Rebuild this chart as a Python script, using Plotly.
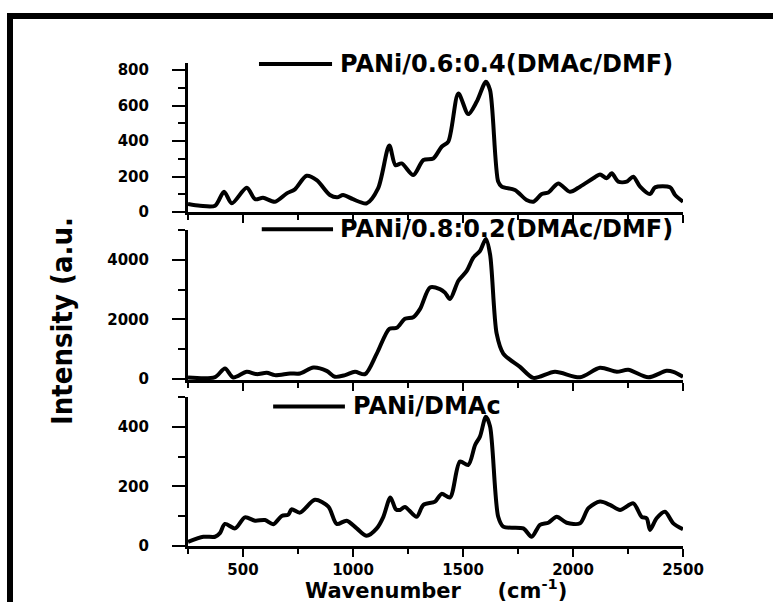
import plotly.graph_objects as go

# ---- data ----
wn_a = [250, 305, 373, 414, 449, 517, 555, 591, 645, 699, 736, 789, 835, 895, 928, 955, 1000,
        1062, 1114, 1165, 1193, 1221, 1274, 1320, 1365, 1403, 1433, 1479, 1524, 1562, 1604, 1623,
        1660, 1676, 1736, 1789, 1820, 1858, 1888, 1933, 1986, 2032, 2092, 2123, 2153, 2176, 2206,
        2244, 2274, 2305, 2350, 2373, 2441, 2464, 2500]
int_a = [45, 35, 35, 114, 49, 137, 72, 80, 58, 105, 128, 204, 180, 96, 83, 96, 72,
         49, 133, 375, 264, 274, 208, 293, 302, 368, 396, 668, 552, 621, 734, 687,
         171, 143, 124, 68, 58, 101, 110, 161, 114, 143, 190, 212, 190, 218, 171,
         171, 199, 143, 101, 139, 139, 96, 58]

wn_b = [250, 373, 418, 456, 517, 562, 608, 645, 714, 759, 820, 880, 918, 964, 1009, 1055, 1108,
        1165, 1199, 1236, 1274, 1305, 1350, 1395, 1418, 1441, 1479, 1517, 1547, 1577, 1604, 1623,
        1653, 1683, 1759, 1820, 1918, 2032, 2123, 2199, 2251, 2342, 2425, 2456, 2500]
int_b = [55, 67, 356, 55, 244, 167, 211, 133, 189, 189, 389, 278, 78, 133, 244, 167, 855,
         1688, 1720, 2021, 2077, 2354, 3074, 3020, 2900, 2687, 3297, 3630, 4073, 4296, 4700, 4186,
         1522, 856, 410, 40, 244, 60, 378, 244, 311, 60, 278, 244, 77]

wn_c = [250, 320, 373, 395, 418, 464, 509, 555, 600, 638, 676, 706, 721, 759, 827, 888, 926,
        971, 1017, 1062, 1108, 1138, 1170, 1195, 1214, 1236, 1289, 1320, 1373, 1403, 1441, 1486,
        1524, 1555, 1577, 1604, 1623, 1660, 1683, 1774, 1812, 1850, 1888, 1926, 1971, 2032, 2070,
        2123, 2168, 2214, 2274, 2312, 2335, 2350, 2380, 2418, 2456, 2500]
int_c = [14, 31, 31, 43, 74, 59, 96, 85, 87, 73, 101, 105, 123, 112, 155, 132, 74,
         85, 59, 34, 59, 98, 163, 123, 121, 131, 98, 138, 149, 175, 163, 283,
         272, 339, 367, 434, 401, 98, 65, 59, 31, 71, 78, 98, 78, 76, 127,
         149, 138, 121, 143, 98, 93, 54, 93, 115, 76, 56]

labels = ["PANi/0.6:0.4(DMAc/DMF)", "PANi/0.8:0.2(DMAc/DMF)", "PANi/DMAc"]
x_title = "Wavenumber\u00a0\u00a0\u00a0\u00a0\u00a0(cm<sup>-1</sup>)"
y_title = "Intensity (a.u."

series = [(wn_a, int_a), (wn_b, int_b), (wn_c, int_c)]

fig = go.Figure()
for i, (wx, wy) in enumerate(series):
    sfx = "" if i == 0 else str(i + 1)
    fig.add_trace(go.Scatter(x=wx, y=wy, mode="lines", name=labels[i],
                             line=dict(color="black", width=4, shape="spline", smoothing=0.8),
                             xaxis="x" + sfx, yaxis="y" + sfx, showlegend=False))

tickfont = dict(family="DejaVu Sans", size=15, color="black", weight="bold")

def xax(show_labels, anchor):
    return dict(range=[250, 2500], anchor=anchor, domain=[0, 1],
                showgrid=False, zeroline=False, showline=True, linecolor="black", linewidth=3,
                ticks="outside", dtick=500, tick0=0, ticklen=8, tickwidth=2, tickcolor="black",
                minor=dict(dtick=250, tick0=0, ticks="outside", ticklen=5, tickwidth=2, tickcolor="black"),
                showticklabels=show_labels, tickfont=tickfont, ticklabelstandoff=0)

def yax(rng, dtick, domain, anchor):
    return dict(range=rng, domain=domain, anchor=anchor,
                showgrid=False, zeroline=False, showline=True, linecolor="black", linewidth=3,
                ticks="outside", dtick=dtick, tick0=0, ticklen=13, tickwidth=2, tickcolor="black",
                minor=dict(dtick=dtick / 2, tick0=0, ticks="outside", ticklen=7, tickwidth=2, tickcolor="black"),
                tickfont=tickfont, ticklabelstandoff=20)

fig.update_layout(
    width=773, height=602,
    margin=dict(l=188, r=90, t=63, b=56),
    paper_bgcolor="white", plot_bgcolor="white",
    xaxis=xax(False, "y"),
    xaxis2=xax(False, "y2"),
    xaxis3=xax(True, "y3"),
    yaxis=yax([0, 840], 200, [0.6915, 1.0], "x"),
    yaxis2=yax([-30, 5000], 2000, [0.3437, 0.6542], "x2"),
    yaxis3=yax([0, 500], 200, [0.0, 0.3085], "x3"),
)

labfont = dict(family="DejaVu Sans", size=24, color="black", weight="bold")
leg_pos = [  # (line start, line end, text start) as paper fractions, y in paper
    (0.1434, 0.291, 0.303, 0.998),
    (0.149, 0.293, 0.303, 0.656),
    (0.172, 0.317, 0.330, 0.289),
]
annotations = []
shapes = []
for i, (x0, x1, xt, yp) in enumerate(leg_pos):
    shapes.append(dict(type="line", xref="paper", yref="paper", x0=x0, x1=x1, y0=yp, y1=yp,
                       line=dict(color="black", width=4)))
    annotations.append(dict(text=labels[i], xref="paper", yref="paper", x=xt, y=yp,
                            xanchor="left", yanchor="middle", showarrow=False, font=labfont))

annotations.append(dict(text=x_title, xref="paper", yref="paper", x=0.5, y=-0.088,
                        xanchor="center", yanchor="middle", showarrow=False,
                        font=dict(family="DejaVu Sans", size=21, color="black", weight="bold")))
annotations.append(dict(text=y_title, xref="paper", yref="paper", x=-0.2545, y=0.4658,
                        xanchor="center", yanchor="middle", showarrow=False, textangle=-90,
                        font=dict(family="DejaVu Sans Condensed, DejaVu Sans", size=29,
                                  color="black", weight="bold")))

# outer frame of the figure
shapes.append(dict(type="rect", xref="paper", yref="paper",
                   x0=-0.3596, x1=1.25, y0=-0.16, y1=1.0973,
                   line=dict(color="black", width=6), fillcolor="rgba(0,0,0,0)", layer="above"))

fig.update_layout(annotations=annotations, shapes=shapes)
fig.write_html("out.html")
